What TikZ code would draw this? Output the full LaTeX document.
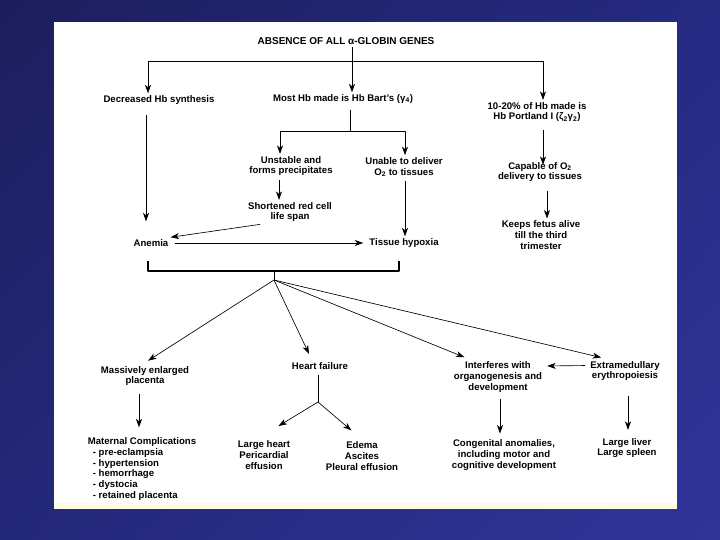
\documentclass[tikz,border=0pt]{standalone}
\usepackage{fontspec}
\setmainfont{Liberation Sans}
\usetikzlibrary{arrows.meta, shadings}
\definecolor{bgul}{RGB}{28,30,92}
\definecolor{bgur}{RGB}{38,42,130}
\definecolor{bgll}{RGB}{36,40,122}
\definecolor{bglr}{RGB}{48,52,152}
\definecolor{sheetband}{RGB}{252,252,228}

\begin{document}
\begin{tikzpicture}[x=1pt, y=-1pt, font=\bfseries\fontsize{9.6}{10.8}\selectfont,
	>={Stealth[length=8.5pt,width=6pt,inset=2.5pt]}, line join=round,
	lbl/.style={inner sep=2pt, align=center},
	arr/.style={->, line width=0.65pt},
	ln/.style={line width=0.65pt}]
	% background and sheet
	\shade[upper left=bgul, upper right=bgur, lower left=bgll, lower right=bglr] (0,0) rectangle (720,540);
	\fill[white] (54,22) rectangle (677,509);
	\fill[sheetband] (54,503) rectangle (677,509);
	\useasboundingbox (0,0) rectangle (720,540);
	
	% upper part
	\node[lbl, font=\bfseries\fontsize{10}{11}\selectfont] (title) at (346,41) {ABSENCE OF ALL α-GLOBIN GENES};
	\node[lbl] (dec) at (159,100) {Decreased Hb synthesis};
	\node[lbl] (bart) at (343,99) {Most Hb made is Hb Bart's (γ\textsubscript{4})};
	\node[lbl] (portland) at (537,112) {10-20\% of Hb made is\\Hb Portland I (ζ\textsubscript{2}γ\textsubscript{2})};
	\node[lbl] (unstable) at (291,166) {Unstable and\\forms precipitates};
	\node[lbl] (unable) at (404,167) {Unable to deliver\\O\textsubscript{2} to tissues};
	\node[lbl] (capable) at (540,172) {Capable of O\textsubscript{2}\\delivery to tissues};
	\node[lbl] (shortened) at (290,212) {Shortened red cell\\life span};
	\node[lbl] (keeps) at (541,235) {Keeps fetus alive\\till the third\\trimester};
	\node[lbl] (anemia) at (151,243) {Anemia};
	\node[lbl] (hypoxia) at (404,243) {Tissue hypoxia};
	
	\coordinate (top) at (352,61);
	\coordinate (busL) at (148,61);
	\coordinate (busR) at (543,61);
	\coordinate (split) at (350,131);
	\coordinate (decx) at ([xshift=-13pt]dec.south);
	
	\draw[arr] (title.south -| top) -- (bart.north -| top);
	\draw[ln] (busL) -- (busR);
	\draw[arr] (busL) -- (dec.north -| busL);
	\draw[arr] (busR) -- (portland.north -| busR);
	\draw[arr, shorten <=8pt, shorten >=16pt] (decx) -- (decx |- anemia.north);
	\draw[ln, shorten <=4pt] (bart.south -| split) -- (split);
	\draw[arr] (split) -| ([xshift=-11pt]unstable.north);
	\draw[arr] (split) -| ([xshift=1pt]unable.north);
	\draw[arr, shorten <=2pt] ([xshift=-12pt]unstable.south) -- ([xshift=-11pt]shortened.north);
	\draw[arr, shorten <=2pt] ([xshift=-28pt]shortened.south) -- (anemia.north east);
	\draw[arr, shorten <=4pt, shorten >=4pt] (anemia.east) -- (hypoxia.west);
	\draw[arr, shorten <=2pt] ([xshift=1pt]unable.south) -- ([xshift=1pt]hypoxia.north);
	\draw[arr, shorten <=6pt, shorten >=-5pt] ([xshift=6pt]portland.south) -- ([xshift=3pt]capable.north);
	\draw[arr, shorten <=7pt] ([xshift=7pt]capable.south) -- ([xshift=6pt]keeps.north);
	
	% bracket gathering anemia and hypoxia
	\coordinate (brL) at (148,261);
	\coordinate (brR) at (399,261);
	\coordinate (brM) at (274,271);
	\coordinate (hub) at (274,280);
	\draw[line width=2.4pt] (brL) |- (brM) -| (brR);
	\draw[ln] (brM) -- (hub);
	
	% lower part
	\node[lbl] (placenta) at (145,376) {Massively enlarged\\placenta};
	\node[lbl] (heart) at (320,366) {Heart failure};
	\node[lbl] (organo) at (498,377) {Interferes with\\organogenesis and\\development};
	\node[lbl] (extra) at (625,371) {Extramedullary\\erythropoiesis};
	\node[lbl, align=left] (maternal) at (142,469) {Maternal Complications\\
		\hspace*{5pt}- pre-eclampsia\\\hspace*{5pt}- hypertension\\\hspace*{5pt}- hemorrhage\\
		\hspace*{5pt}- dystocia\\\hspace*{5pt}- retained placenta};
	\node[lbl] (bigheart) at (264,455) {Large heart\\Pericardial\\effusion};
	\node[lbl] (edema) at (362,456) {Edema\\Ascites\\Pleural effusion};
	\node[lbl] (congenital) at (504,455) {Congenital anomalies,\\including motor and\\cognitive development};
	\node[lbl] (liver) at (627,448) {Large liver\\Large spleen};
	
	\draw[arr, shorten >=6pt] (hub) -- ([xshift=-2pt]placenta.north);
	\draw[arr, shorten >=7pt] (hub) -- ([xshift=-8pt]heart.north);
	\draw[arr, shorten >=6pt] (hub) -- ([xshift=-28pt]organo.north);
	\draw[arr, shorten >=6pt] (hub) -- ([xshift=-18pt]extra.north);
	\draw[arr, shorten <=3pt, shorten >=3pt] ([yshift=5.5pt]extra.west) -- ([yshift=11pt]organo.east);
	
	\coordinate (fork) at (318,402);
	\draw[arr, shorten <=6pt, shorten >=8pt] ([xshift=-6pt]placenta.south) -- ([xshift=-3pt]maternal.north);
	\draw[ln, shorten <=3pt] ([xshift=-2pt]heart.south) -- (fork);
	\draw[arr, shorten >=24pt] (fork) -- ([xshift=-6pt]bigheart.north);
	\draw[arr, shorten >=14pt] (fork) -- (edema.north);
	\draw[arr, shorten <=5pt, shorten >=4pt] ([xshift=2pt]organo.south) -- ([xshift=-4pt]congenital.north);
	\draw[arr, shorten <=13pt, shorten >=6pt] ([xshift=3pt]extra.south) -- ([xshift=1pt]liver.north);
\end{tikzpicture}
\end{document}
